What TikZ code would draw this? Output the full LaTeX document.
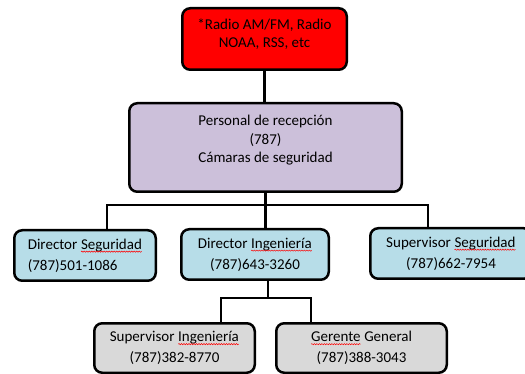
\documentclass[tikz,border=0pt]{standalone}
\usepackage{fontspec}
\setmainfont{Carlito}
\usetikzlibrary{decorations.pathmorphing}
\definecolor{rojo}{RGB}{255,0,0}
\definecolor{lila}{RGB}{204,192,218}
\definecolor{celeste}{RGB}{183,221,232}
\definecolor{gris}{RGB}{217,217,217}
\tikzset{
	caja/.style={draw=black,line width=2.5pt,rounded corners=8pt,inner sep=0pt,align=center,font=\fontsize{15}{21}\selectfont},
	cajaalta/.style={caja,font=\fontsize{15}{18.5}\selectfont},
	linea/.style={line width=2.5pt},
	ortog/.style={inner sep=0pt,outer sep=0pt,draw=none,fill=none,minimum width=0pt,minimum height=0pt,align=none,rounded corners=0pt},
}
\newcommand\ortog[1]{\tikz[baseline=(w.base)]{\node[ortog](w){#1};\draw[draw=red,fill=none,line width=.5pt,sharp corners,decorate,decoration={snake,amplitude=.6pt,segment length=2.5pt}]([yshift=-2.5pt]w.base west)--([yshift=-2.5pt]w.base east);}}
\begin{document}
\begin{tikzpicture}[x=1pt,y=-1pt]
		\useasboundingbox(0,0)rectangle(525,374);
		\node[cajaalta,fill=rojo,minimum width=164.5,minimum height=61.5](radio)at(264.5,39){*Radio AM/FM, Radio\\NOAA, RSS, etc\\[-6.5pt]\mbox{}};
		\node[cajaalta,fill=lila,minimum width=272.5,minimum height=88.5](recepcion)at(265.5,147.5){Personal de recepción\\(787)\\Cámaras de seguridad\\[-2pt]\mbox{}};
		\node[caja,fill=celeste,align=left,minimum width=141.5,minimum height=50.5](dirSeg)at(85,255.5){Director \ortog{Seguridad}\\(787)501-1086};
		\node[caja,fill=celeste,minimum width=147.5,minimum height=50.5](dirIng)at(255,254.5){Director \ortog{Ingeniería}\\(787)643-3260};
		\node[caja,fill=celeste,minimum width=161.5,minimum height=50.5](supSeg)at(451,253.5){Supervisor \ortog{Seguridad}\\(787)662-7954};
		\node[caja,fill=gris,minimum width=160.5,minimum height=49.5](supIng)at(174.5,348){Supervisor \ortog{Ingeniería}\\(787)382-8770};
		\node[caja,fill=gris,minimum width=170.5,minimum height=49.5](gerente)at(361.5,348){\ortog{Gerente} General\\(787)388-3043};
		\coordinate(b1)at(107,205);
		\coordinate(b3)at(428,205);
		\coordinate(c)at(268,298);
		\coordinate(c1)at(221,298);
		\coordinate(c2)at(311,298);
		\draw[linea](radio)--(radio.south|-recepcion.north);
		\draw[linea](recepcion.south)--(recepcion.south|-dirIng.north);
		\draw[linea](b1|-dirSeg.north)--(b1)--(b3)--(b3|-supSeg.north);
		\draw[linea](c|-dirIng.south)--(c);
		\draw[linea](c1|-supIng.north)--(c1)--(c2)--(c2|-gerente.north);
		\end{tikzpicture}
\end{document}
